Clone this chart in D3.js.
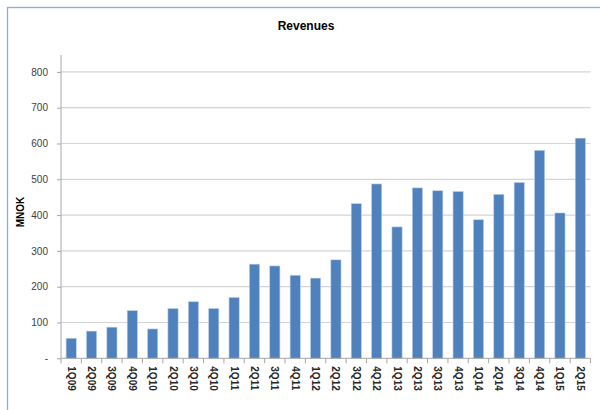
<!DOCTYPE html>
<html><head><meta charset="utf-8">
<script src="https://cdn.jsdelivr.net/npm/d3@7"></script>
<style>body{margin:0;background:#fff}svg{display:block}text{font-family:"Liberation Sans",Arial,sans-serif}</style>
</head><body><svg id="c" width="600" height="410"></svg>
<script>
const categories = ["1Q09","2Q09","3Q09","4Q09","1Q10","2Q10","3Q10","4Q10","1Q11","2Q11","3Q11","4Q11","1Q12","2Q12","3Q12","4Q12","1Q13","2Q13","3Q13","4Q13","1Q14","2Q14","3Q14","4Q14","1Q15","2Q15"];
const revenues = [56,76,87,133,82,139,158,139,170,263,258,232,224,275,432,487,367,476,468,466,387,458,491,581,406,615];
const yTicks = [0,100,200,300,400,500,600,700,800];
const title = "Revenues";
const yLabel = "MNOK";

(function(){
const svg = d3.select("#c");
const pl = 61, pr = 590.5, pt = 71.9, pb = 358.3;
svg.append("rect").attr("x",7.5).attr("y",7.5).attr("width",620).attr("height",430)
  .attr("fill","none").attr("stroke","#8eaad6").attr("stroke-width",1.3);

const x = d3.scaleBand().domain(categories).range([pl,pr]).paddingInner(0.5).paddingOuter(0.25);
const y = d3.scaleLinear().domain([0,800]).range([pb,pt]);

svg.append("g").selectAll("line").data(yTicks.filter(d=>d>0)).join("line")
  .attr("x1",pl).attr("x2",pr).attr("y1",d=>y(d)).attr("y2",d=>y(d))
  .attr("stroke","#d4d4d4").attr("stroke-width",1.2);

const yAxis = d3.axisLeft(y).tickValues(yTicks).tickSize(4).tickPadding(9)
  .tickFormat(d=>d===0?"-":d);
const gy = svg.append("g").attr("transform",`translate(${pl},0)`).call(yAxis);
gy.select(".domain").remove();
gy.selectAll(".tick line").attr("stroke","#a6a6a6");
gy.selectAll("text").attr("fill","#404040").style("font-size","10px");
svg.append("line").attr("x1",pl).attr("x2",pl).attr("y1",55).attr("y2",pb).attr("stroke","#a6a6a6");

svg.append("g").selectAll("rect").data(categories).join("rect")
  .attr("x",d=>x(d)).attr("width",x.bandwidth())
  .attr("y",(d,i)=>y(revenues[i])).attr("height",(d,i)=>pb-y(revenues[i]))
  .attr("fill","#4f81bd").attr("stroke","#bcd0ea").attr("stroke-width",0.6);

const n = categories.length;
const gx = svg.append("g");
gx.append("line").attr("x1",pl).attr("x2",pr).attr("y1",pb).attr("y2",pb).attr("stroke","#a6a6a6");
gx.selectAll("line.t").data(d3.range(n+1)).join("line").attr("class","t")
  .attr("x1",i=>pl+i*(pr-pl)/n).attr("x2",i=>pl+i*(pr-pl)/n)
  .attr("y1",pb).attr("y2",pb+5).attr("stroke","#a6a6a6");
gx.selectAll("text").data(categories).join("text")
  .attr("transform",d=>`translate(${x(d)+x.bandwidth()/2-3.5},${pb+8}) rotate(90)`)
  .attr("text-anchor","start").attr("fill","#262626")
  .style("font-size","10px").style("font-weight","bold").text(d=>d);

svg.append("text").attr("x",306).attr("y",30).attr("text-anchor","middle")
  .style("font-size","12px").style("font-weight","bold").attr("fill","#000").text(title);
svg.append("text").attr("transform","translate(24,212) rotate(-90)").attr("text-anchor","middle")
  .style("font-size","10px").style("font-weight","bold").attr("fill","#000").text(yLabel);
})();
</script></body></html>
